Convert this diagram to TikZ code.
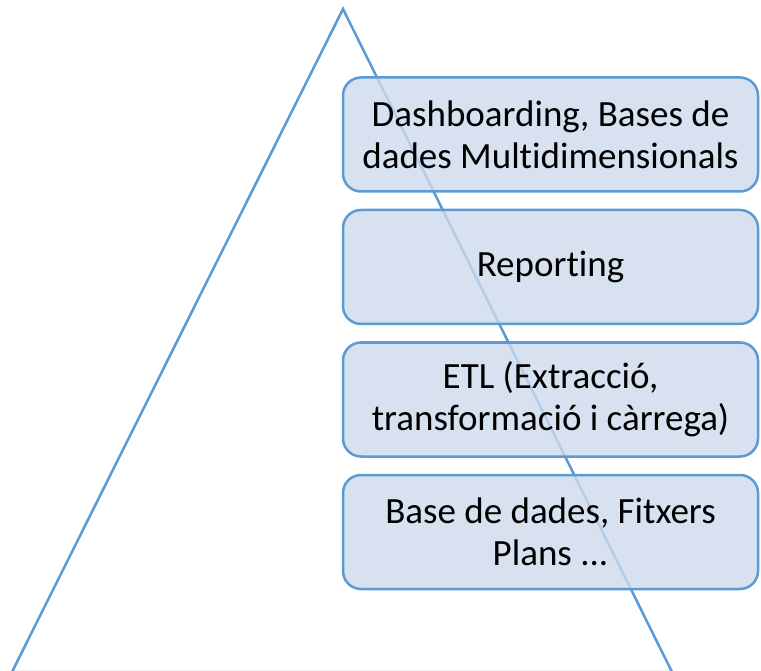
\documentclass[tikz,border=0pt]{standalone}
\usepackage{fontspec}
\setmainfont{Carlito}[Ligatures={NoCommon}]
\usetikzlibrary{positioning}
\definecolor{lineblue}{RGB}{91,155,213}
\definecolor{boxfill}{RGB}{205,218,236}
\tikzset{
  layer/.style={draw=lineblue, line width=2.5pt, rounded corners=18pt, fill=boxfill, fill opacity=0.8, text opacity=1,
    minimum width=415pt, minimum height=114pt, align=center, font=\fontsize{37}{42}\selectfont, inner sep=0pt}
}

\begin{document}
\begin{tikzpicture}[x=1pt,y=-1pt]
\clip (0,0) rectangle (761,671);
\useasboundingbox (0,0) rectangle (761,671);
% triangle behind the layers
\coordinate (apex) at (343,9);
\coordinate (baseL) at (12,672);
\coordinate (baseR) at (672,672);
\draw[line width=2.5pt,color=lineblue] (baseL) -- (apex) -- (baseR) -- cycle;
% layers
\node[layer] (dash) at (550.5,134.5) {Dashboarding, Bases de\\dades Multidimensionals};
\node[layer, below=16pt of dash] (report) {Reporting};
\node[layer, below=16pt of report] (etl) {ETL (Extracció,\\transformació i càrrega)};
\node[layer, below=16pt of etl] (bd) {Base de dades, Fitxers\\Plans ...};
\end{tikzpicture}
\end{document}
